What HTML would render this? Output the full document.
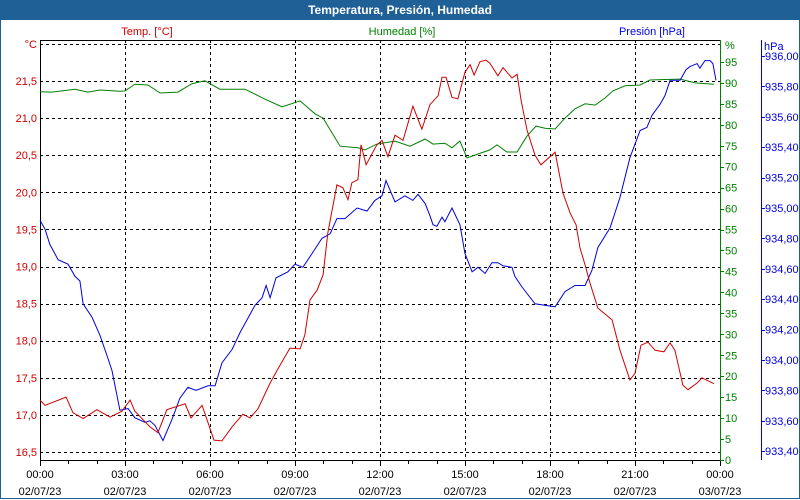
<!DOCTYPE html>
<html><head><meta charset="utf-8"><style>
html,body{margin:0;padding:0;background:#fff}
#wrap{position:relative;width:800px;height:500px;overflow:hidden;background:#fff;font-family:"Liberation Sans",Tahoma,sans-serif}
#title{position:absolute;left:0;top:0;width:800px;height:20px;background:#1f6096;color:#fff;font-weight:bold;font-size:12px;line-height:20px;text-align:center}
#frame{position:absolute;left:0;top:20px;width:798px;height:478px;border:1px solid #1f6096;border-top:none}
svg{position:absolute;left:0;top:0}
svg text{font-family:"Liberation Sans",Tahoma,sans-serif;font-size:11px}
</style></head><body>
<div id="wrap">
<div id="title">Temperatura, Presión, Humedad</div>
<div id="frame"></div>
<svg id="chart" width="800" height="500"></svg>
</div>
<script>
const tempHours=[0,0.18,0.92,1.16,1.52,2.01,2.47,2.89,3.18,3.35,3.88,4.16,4.48,5.12,5.33,5.72,6.14,6.42,6.78,7.16,7.41,7.69,8.12,8.47,8.82,9.18,9.35,9.53,9.78,9.99,10.16,10.48,10.69,10.87,11.01,11.22,11.33,11.51,11.89,12.07,12.28,12.53,12.81,13.16,13.48,13.76,14.05,14.19,14.33,14.54,14.75,15.00,15.18,15.32,15.53,15.74,15.88,16.16,16.34,16.66,16.84,16.98,17.19,17.47,17.68,18.18,18.46,18.71,18.92,19.06,19.24,19.41,19.69,19.94,20.19,20.47,20.82,21.00,21.21,21.46,21.71,22.02,22.24,22.41,22.69,22.87,23.19,23.36,23.79];
const tempValues=[17.20,17.13,17.24,17.03,16.95,17.07,16.97,17.05,17.20,17.05,16.84,16.76,17.07,17.15,16.96,17.13,16.66,16.65,16.84,17.01,16.96,17.08,17.43,17.67,17.90,17.89,18.08,18.55,18.68,18.89,19.46,20.10,20.06,19.90,20.13,20.17,20.64,20.37,20.64,20.70,20.48,20.77,20.70,21.16,20.85,21.18,21.30,21.55,21.55,21.28,21.26,21.62,21.72,21.58,21.76,21.78,21.74,21.57,21.68,21.54,21.59,21.24,20.84,20.50,20.37,20.54,19.99,19.72,19.56,19.25,19.02,18.78,18.44,18.36,18.28,17.87,17.47,17.56,17.94,17.98,17.87,17.85,17.97,17.87,17.40,17.34,17.43,17.50,17.42];
const humHours=[0,0.42,1.24,1.69,2.12,2.82,3.00,3.35,3.81,4.24,4.87,5.36,5.82,6.35,7.24,7.94,8.54,9.18,9.71,9.99,10.59,11.22,11.47,11.89,12.53,13.06,13.59,13.87,14.29,14.54,14.82,15.07,15.88,16.13,16.48,16.84,17.19,17.51,17.82,18.18,18.53,18.88,19.24,19.59,19.94,20.22,20.65,21.18,21.53,22.06,22.59,23.12,23.79];
const humValues=[87.9,87.8,88.5,87.8,88.3,88.0,88.1,89.7,89.5,87.6,87.8,89.8,90.5,88.5,88.5,86.1,84.3,85.7,82.6,81.6,74.9,74.5,74.0,75.4,76.1,74.9,76.6,75.4,75.6,74.5,76.1,72.1,74.0,75.2,73.5,73.5,77.3,79.7,79.2,79.0,81.6,83.8,85.0,84.7,86.4,88.1,89.3,89.5,90.7,90.8,90.9,90.0,89.7];
const presHours=[0,0.18,0.35,0.64,0.99,1.24,1.41,1.52,1.84,2.12,2.40,2.54,2.82,3.11,3.35,3.71,3.88,4.06,4.34,4.66,4.94,5.22,5.51,5.93,6.18,6.42,6.78,7.06,7.59,7.84,7.98,8.12,8.33,8.75,9.00,9.28,9.60,9.95,10.24,10.48,10.76,11.19,11.54,11.82,12.07,12.21,12.53,12.88,13.16,13.34,13.59,13.76,13.87,14.01,14.19,14.29,14.54,14.82,15.00,15.25,15.46,15.71,15.95,16.16,16.34,16.66,16.76,17.01,17.47,17.82,18.18,18.53,18.88,19.24,19.48,19.69,20.12,20.47,20.82,21.18,21.42,21.60,21.88,22.06,22.24,22.59,22.80,22.94,23.19,23.29,23.47,23.65,23.75,23.86];
const presValues=[934.92,934.86,934.76,934.66,934.63,934.55,934.52,934.37,934.28,934.16,934.01,933.93,933.67,933.68,933.62,933.59,933.60,933.57,933.47,933.61,933.75,933.82,933.80,933.83,933.83,933.98,934.07,934.18,934.36,934.41,934.49,934.41,934.54,934.58,934.63,934.61,934.70,934.80,934.83,934.93,934.93,935.00,934.98,935.05,935.08,935.18,935.04,935.08,935.05,935.09,935.03,934.95,934.89,934.88,934.94,934.91,935.00,934.89,934.70,934.58,934.61,934.57,934.64,934.64,934.62,934.61,934.55,934.48,934.37,934.36,934.35,934.45,934.49,934.49,934.59,934.74,934.87,935.07,935.33,935.51,935.53,935.61,935.68,935.74,935.84,935.84,935.91,935.93,935.95,935.92,935.97,935.97,935.95,935.84];
const tempTicks=[16.5,17.0,17.5,18.0,18.5,19.0,19.5,20.0,20.5,21.0,21.5];
const humTicks=[0,5,10,15,20,25,30,35,40,45,50,55,60,65,70,75,80,85,90,95];
const presTicks=[933.4,933.6,933.8,934.0,934.2,934.4,934.6,934.8,935.0,935.2,935.4,935.6,935.8,936.0];
const timeLabels=["00:00","03:00","06:00","09:00","12:00","15:00","18:00","21:00","00:00"];
const dateLabels=["02/07/23","02/07/23","02/07/23","02/07/23","02/07/23","02/07/23","02/07/23","02/07/23","03/07/23"];

const L=40,R=720,T=40,B=460;
const xS=h=>L+h*(R-L)/24;
const yT=v=>452-(v-16.5)*74.2;
const yH=v=>460-v*4.19;
const yP=v=>56-(v-936)*152;
const svg=document.getElementById('chart');
const NS='http://www.w3.org/2000/svg';
function mk(tag,attrs,parent){const e=document.createElementNS(NS,tag);for(const k in attrs)e.setAttribute(k,attrs[k]);(parent||svg).appendChild(e);return e;}
function txt(s,x,y,anchor,color,name){const t=mk('text',{x:x,y:y,'text-anchor':anchor,fill:color});t.textContent=s;


return t;}

// grid
const grid=mk('g',{stroke:'#000','stroke-width':1,'stroke-dasharray':'3,3',fill:'none'});


tempTicks.concat([22.0]).forEach(v=>{const y=Math.round(yT(v))+0.5;const l=mk('line',{x1:L,x2:R,y1:y,y2:y},grid);

});
for(let i=1;i<8;i++){const x=Math.round(xS(i*3))+0.5;const l=mk('line',{x1:x,x2:x,y1:T,y2:B},grid);

}

// axes
const ax=mk('g',{'stroke-width':1,fill:'none'});


mk('line',{x1:L+0.5,x2:L+0.5,y1:T,y2:B,stroke:'#000'},ax);
mk('line',{x1:L,x2:R,y1:T+0.5,y2:T+0.5,stroke:'#000'},ax);
mk('line',{x1:L,x2:R,y1:B+0.5,y2:B+0.5,stroke:'#000'},ax);
mk('line',{x1:R+0.5,x2:R+0.5,y1:T,y2:B+1,stroke:'#008000'},ax);
mk('line',{x1:761.5,x2:761.5,y1:T,y2:B,stroke:'#0000e0'},ax);
for(let i=0;i<=24;i++){const x=Math.round(xS(i))+0.5;mk('line',{x1:x,x2:x,y1:B,y2:B+(i%3==0?6:4),stroke:'#000'},ax);}

// tick labels
tempTicks.forEach(v=>txt(v.toFixed(1).replace('.',','),37,yT(v)+4,'end','#d00000','temp-tick-label'));
txt('°C',37,48,'end','#d00000','temp-unit-label');
humTicks.forEach(v=>{const y=Math.round(yH(v))+0.5;mk('line',{x1:R,x2:R+4,y1:y,y2:y,stroke:'#008000'},ax);txt(String(v),725,yH(v)+4,'start','#008000','humidity-tick-label');});
txt('%',725,49,'start','#008000','humidity-unit-label');
presTicks.forEach(v=>{const y=Math.round(yP(v))+0.5;mk('line',{x1:761,x2:765,y1:y,y2:y,stroke:'#0000e0'},ax);txt(v.toFixed(2).replace('.',','),765,yP(v)+4,'start','#0000e0','pressure-tick-label');});
txt('hPa',764,50,'start','#0000e0','pressure-unit-label');
timeLabels.forEach((s,i)=>{txt(s,xS(i*3),478,'middle','#000','x-time-label');txt(dateLabels[i],xS(i*3),495,'middle','#000','x-date-label');});

// headers
txt('Temp. [°C]',147,35,'middle','#d00000','temp-series-title');
txt('Humedad [%]',402,35,'middle','#008000','humidity-series-title');
txt('Presión [hPa]',685,35,'end','#0000e0','pressure-series-title');

function line(hours,vals,yf,color,name){const d=hours.map((h,i)=>(i?'L':'M')+xS(h).toFixed(1)+','+yf(vals[i]).toFixed(1)).join('');
const p=mk('path',{d:d,stroke:color,'stroke-width':1,fill:'none'});

}
line(humHours,humValues,yH,'#008000','humidity-line');
line(presHours,presValues,yP,'#0000e0','pressure-line');
line(tempHours,tempValues,yT,'#d00000','temperature-line');
</script>
</body></html>
